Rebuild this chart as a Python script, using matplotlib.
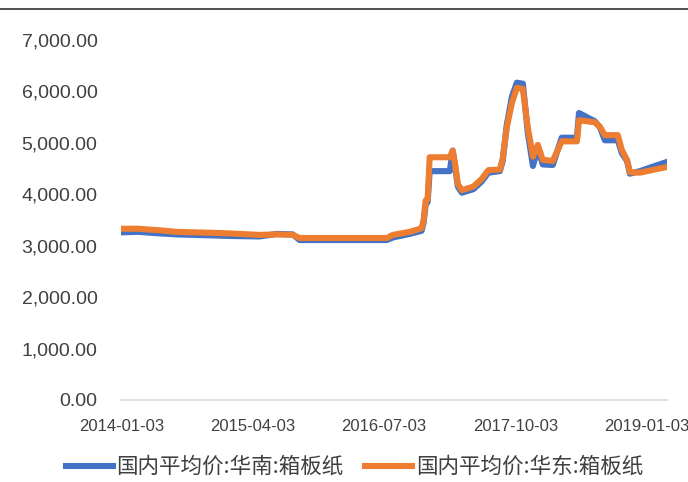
import pandas as pd
import matplotlib
matplotlib.use("Agg")
import matplotlib.pyplot as plt
import matplotlib.dates as mdates
from matplotlib.lines import Line2D
from matplotlib.ticker import FuncFormatter

# price points (date, value)
dates_e = ["2014-01-03", "2014-03-01", "2014-05-15", "2014-07-13", "2014-11-16",
           "2015-01-10", "2015-04-28", "2015-06-26", "2015-08-21", "2015-09-14",
           "2016-07-13", "2016-08-03", "2016-10-01", "2016-11-11", "2016-11-18",
           "2016-11-25", "2016-12-02", "2016-12-09", "2017-02-17", "2017-02-27",
           "2017-03-07", "2017-03-17", "2017-03-31", "2017-05-10", "2017-06-08",
           "2017-07-01", "2017-08-10", "2017-08-20", "2017-09-03", "2017-09-21",
           "2017-10-08", "2017-10-29", "2017-11-15", "2017-12-03", "2017-12-20",
           "2018-01-06", "2018-02-10", "2018-03-13", "2018-05-05", "2018-05-12",
           "2018-07-06", "2018-07-24", "2018-08-10", "2018-09-24", "2018-10-08",
           "2018-10-26", "2018-11-05", "2018-12-10", "2019-01-20", "2019-03-14"]

south = [3260, 3270, 3240, 3220, 3200,
         3190, 3180, 3230, 3220, 3110,
         3110, 3160, 3230, 3290, 3450,
         3800, 3850, 4450, 4450, 4850,
         4550, 4150, 4030, 4100, 4250,
         4420, 4450, 4650, 5350, 5900,
         6170, 6150, 5200, 4550, 4900,
         4580, 4570, 5100, 5100, 5580,
         5420, 5300, 5050, 5050, 4800,
         4650, 4400, 4450, 4530, 4630]

east = [3330, 3330, 3300, 3270, 3250,
        3240, 3210, 3220, 3210, 3150,
        3150, 3210, 3270, 3340, 3500,
        3880, 3900, 4720, 4720, 4850,
        4600, 4200, 4080, 4150, 4300,
        4470, 4480, 4700, 5300, 5780,
        6070, 6050, 5300, 4730, 4960,
        4670, 4650, 5030, 5030, 5440,
        5400, 5310, 5150, 5150, 4860,
        4670, 4430, 4420, 4470, 4530]

tick_dates = ["2014-01-03", "2015-04-03", "2016-07-03", "2017-10-03", "2019-01-03"]

d = pd.to_datetime(dates_e)
ticks = pd.to_datetime(tick_dates)

fig = plt.figure(figsize=(6.88, 4.82), dpi=100)
ax = fig.add_axes([121/688, 82/482, 546/688, 360/482])

ax.plot(d, south, color="#4472C4", linewidth=4.4, solid_joinstyle="round",
        label="国内平均价:华南:箱板纸")
ax.plot(d, east, color="#ED7D31", linewidth=4.4, solid_joinstyle="round",
        label="国内平均价:华东:箱板纸")

ax.set_ylim(0, 7000)
ax.set_yticks(range(0, 7001, 1000))
ax.yaxis.set_major_formatter(FuncFormatter(lambda v, p: f"{v:,.2f}"))
ax.set_xlim(pd.Timestamp("2014-01-01"), pd.Timestamp("2019-03-14"))
ax.set_xticks(ticks)
ax.xaxis.set_major_formatter(mdates.DateFormatter("%Y-%m-%d"))

for s in ["top", "right", "left"]:
    ax.spines[s].set_visible(False)
ax.spines["bottom"].set_color("#d9d9d9")
ax.spines["bottom"].set_linewidth(1.2)
ax.tick_params(length=0)
ax.tick_params(axis="y", pad=17, labelsize=14, labelcolor="#404040")
ax.tick_params(axis="x", pad=14, labelsize=12, labelcolor="#404040")
for lbl in ax.get_xticklabels() + ax.get_yticklabels():
    lbl.set_family("Liberation Sans")

fig.add_artist(Line2D([0, 1], [1 - 9/482, 1 - 9/482], color="#333333", linewidth=1.2))

fig.legend(loc="center", bbox_to_anchor=(0.515, 0.031), ncol=2, frameon=False,
           prop={"family": ["Noto Sans CJK SC", "DejaVu Sans"], "size": 15.5},
           handlelength=2.2, handletextpad=0.15, columnspacing=1.0,
           labelcolor="#404040")

fig.savefig("out.png", dpi=100)
